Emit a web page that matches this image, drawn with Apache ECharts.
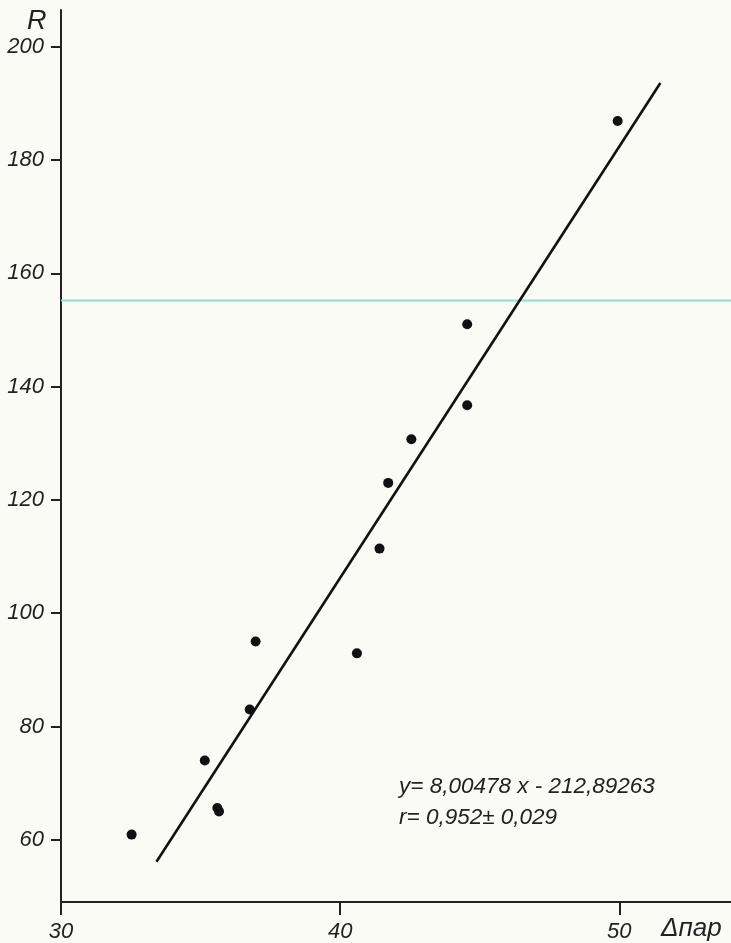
<!DOCTYPE html>
<html>
<head>
<meta charset="utf-8">
<script src="https://cdn.jsdelivr.net/npm/echarts@6/dist/echarts.min.js"></script>
<style>
html,body{margin:0;padding:0;background:#fbfbf6;}
#myChart{width:731px;height:943px;}
</style>
</head>
<body>
<div id="myChart"></div>
<script>
// точки (Δпар, R)
var dataX = [32.53, 35.15, 35.60, 35.66, 36.76, 36.97, 40.60, 41.41, 41.72, 42.55, 44.55, 44.55, 49.94];
var dataY = [60.9, 74.0, 65.6, 65.0, 83.0, 95.0, 92.9, 111.4, 123.0, 130.7, 136.7, 151.0, 186.9];
// линия регрессии, концы по рисунку
var lineX = [33.42, 51.47];
var lineY = [56.1, 193.6];
var yTicks = [60, 80, 100, 120, 140, 160, 180, 200];
var xTicks = [30, 40, 50];
var scanLineY = 155.2; // голубая линия со скана

var chartDom = document.getElementById('myChart');
var myChart = echarts.init(chartDom);
var option;

var points = dataX.map(function (x, i) { return [x, dataY[i]]; });
var line = lineX.map(function (x, i) { return [x, lineY[i]]; });

var tickFont = {
    fontFamily: 'Liberation Sans',
    fontStyle: 'italic',
    fontSize: 22,
    color: '#222'
};

option = {
    backgroundColor: '#fbfbf6',
    animation: false,
    grid: {
        top: 10,
        bottom: 40,
        left: 61,
        right: 0
    },
    xAxis: {
        type: 'value',
        min: 30,
        max: 54,
        axisLine: { lineStyle: { color: '#222', width: 2 } },
        axisTick: { show: true, length: 13, customValues: xTicks, lineStyle: { color: '#222', width: 2 } },
        axisLabel: Object.assign({ margin: 19, customValues: xTicks }, tickFont),
        splitLine: { show: false }
    },
    yAxis: {
        type: 'value',
        min: 49,
        max: 206.5,
        axisLine: { show: true, lineStyle: { color: '#222', width: 2 } },
        axisTick: { show: true, length: 10, customValues: yTicks, lineStyle: { color: '#222', width: 2 } },
        axisLabel: Object.assign({ margin: 17, customValues: yTicks }, tickFont),
        splitLine: { show: false }
    },
    graphic: [
        {
            type: 'text', left: 27, top: 8,
            style: { text: 'R', font: 'italic 27px "Liberation Sans"', fill: '#222' }
        },
        {
            type: 'text', left: 661, top: 916,
            style: { text: 'Δпар', font: 'italic 26px "Liberation Sans"', fill: '#222' }
        },
        {
            type: 'text', left: 399, top: 775,
            style: { text: 'y= 8,00478 x - 212,89263', font: 'italic 22.5px "Liberation Sans"', fill: '#222' }
        },
        {
            type: 'text', left: 399, top: 806,
            style: { text: 'r= 0,952± 0,029', font: 'italic 22.5px "Liberation Sans"', fill: '#222' }
        }
    ],
    series: [
        {
            name: 'scan',
            type: 'line',
            data: [[30, scanLineY], [54, scanLineY]],
            symbol: 'none',
            silent: true,
            lineStyle: { color: '#8fdcd0', width: 2 },
            z: 1
        },
        {
            name: 'регрессия',
            type: 'line',
            data: line,
            symbol: 'none',
            lineStyle: { color: '#111', width: 2.6 },
            z: 2
        },
        {
            name: 'точки',
            type: 'scatter',
            data: points,
            symbolSize: 10,
            itemStyle: { color: '#111', opacity: 1 },
            z: 3
        }
    ]
};

option && myChart.setOption(option);
window.addEventListener('resize', function () {
    myChart.resize();
});
</script>
</body>
</html>
